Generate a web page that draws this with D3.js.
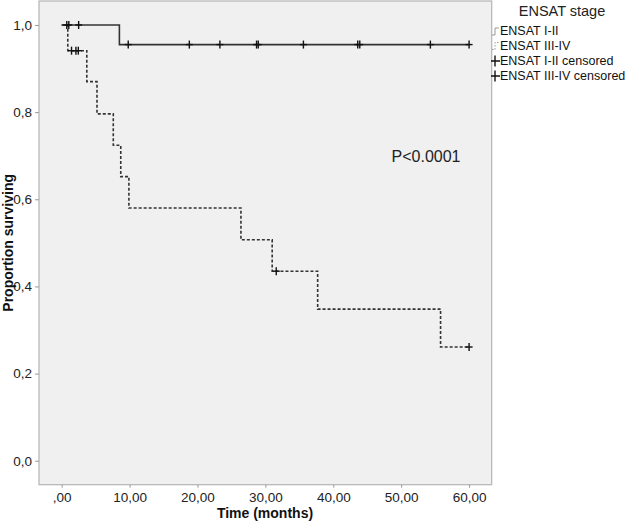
<!DOCTYPE html>
<html>
<head>
<meta charset="utf-8">
<script src="https://cdn.jsdelivr.net/npm/d3@7"></script>
<style>
  body { margin: 0; background: #fff; }
  svg { display: block; font-family: "Liberation Sans", Arial, sans-serif; }
</style>
</head>
<body>
<div id="chart"></div>
<script>
// Kaplan-Meier steps
const stageNames = ["ENSAT I-II", "ENSAT III-IV"];
const stepTimesI = [0, 8.5, 60];
const stepSurvI = [1.0, 0.955, 0.955];
const stepTimesIII = [0, 0.9, 3.7, 5.2, 7.6, 8.7, 9.9, 26.4, 31.0, 37.7, 55.8, 60];
const stepSurvIII = [1.0, 0.941, 0.870, 0.796, 0.724, 0.652, 0.580, 0.507, 0.435, 0.348, 0.261, 0.261];
const censorTimesI = [0.75, 1.05, 2.5, 9.8, 18.8, 23.3, 28.7, 28.95, 35.6, 43.6, 43.9, 54.3, 60];
const censorSurvI = [1.0, 1.0, 1.0, 0.955, 0.955, 0.955, 0.955, 0.955, 0.955, 0.955, 0.955, 0.955, 0.955];
const censorTimesIII = [1.45, 2.1, 2.45, 31.6, 60];
const censorSurvIII = [0.941, 0.941, 0.941, 0.435, 0.261];
const xTicks = [0, 10, 20, 30, 40, 50, 60];
const yTicks = [0, 0.2, 0.4, 0.6, 0.8, 1.0];
const legendLabels = ["ENSAT I-II", "ENSAT III-IV", "ENSAT I-II censored", "ENSAT III-IV censored"];

const width = 630, height = 523;
const plot = { left: 39, right: 491.7, top: 1, bottom: 484.7 };

const svg = d3.select("#chart").append("svg")
    .attr("width", width)
    .attr("height", height);

const x = d3.scaleLinear().domain([-3.34, 63.33]).range([plot.left, plot.right]);
const y = d3.scaleLinear().domain([-0.055, 1.055]).range([plot.bottom, plot.top]);

svg.append("rect")
    .attr("x", plot.left)
    .attr("y", plot.top)
    .attr("width", plot.right - plot.left)
    .attr("height", plot.bottom - plot.top)
    .attr("fill", "#f0f0f0")
    .attr("stroke", "#b4b4b4")
    .attr("stroke-width", 1.2);

// axes
const fmtX = d => d === 0 ? ",00" : d3.format(".2f")(d).replace(".", ",");
const fmtY = d => d3.format(".1f")(d).replace(".", ",");

const xAxis = svg.append("g")
    .attr("transform", `translate(0,${plot.bottom})`)
    .call(d3.axisBottom(x).tickValues(xTicks).tickSize(3).tickPadding(5).tickFormat(fmtX));
const yAxis = svg.append("g")
    .attr("transform", `translate(${plot.left},0)`)
    .call(d3.axisLeft(y).tickValues(yTicks).tickSize(4).tickPadding(3).tickFormat(fmtY));

[xAxis, yAxis].forEach(g => {
    g.select(".domain").remove();
    g.selectAll(".tick line").attr("stroke", "#999");
    g.selectAll(".tick text")
        .attr("fill", "#222")
        .style("font-size", "13.5px")
        .style("font-family", "Liberation Sans, Arial, sans-serif");
});

svg.append("text")
    .attr("x", 265)
    .attr("y", 518)
    .attr("text-anchor", "middle")
    .style("font-size", "14px")
    .style("font-weight", "bold")
    .attr("fill", "#111")
    .text("Time (months)");

svg.append("text")
    .attr("transform", `translate(13,${(plot.top + plot.bottom) / 2}) rotate(-90)`)
    .attr("text-anchor", "middle")
    .style("font-size", "14px")
    .style("font-weight", "bold")
    .attr("fill", "#111")
    .text("Proportion surviving");

// curves
const line = d3.line()
    .x(d => x(d[0]))
    .y(d => y(d[1]))
    .curve(d3.curveStepAfter);

const stepsI = stepTimesI.map((t, i) => [t, stepSurvI[i]]);
const stepsIII = stepTimesIII.map((t, i) => [t, stepSurvIII[i]]);

svg.append("path")
    .datum(stepsIII)
    .attr("d", line)
    .attr("fill", "none")
    .attr("stroke", "#333")
    .attr("stroke-width", 1.6)
    .attr("stroke-dasharray", "3,2");

svg.append("path")
    .datum(stepsI)
    .attr("d", line)
    .attr("fill", "none")
    .attr("stroke", "#333")
    .attr("stroke-width", 1.6);

const plus = d3.symbol().type(d3.symbolCross);
function drawCensor(times, surv) {
    const pts = times.map((t, i) => [t, surv[i]]);
    const g = svg.append("g");
    g.selectAll("line.v")
        .data(pts)
        .enter().append("line")
        .attr("class", "v")
        .attr("x1", d => x(d[0]))
        .attr("x2", d => x(d[0]))
        .attr("y1", d => y(d[1]) - 4)
        .attr("y2", d => y(d[1]) + 4)
        .attr("stroke", "#111")
        .attr("stroke-width", 1.4);
    g.selectAll("line.h")
        .data(pts)
        .enter().append("line")
        .attr("class", "h")
        .attr("x1", d => x(d[0]) - 3.5)
        .attr("x2", d => x(d[0]) + 3.5)
        .attr("y1", d => y(d[1]))
        .attr("y2", d => y(d[1]))
        .attr("stroke", "#111")
        .attr("stroke-width", 1.4);
}
drawCensor(censorTimesI, censorSurvI);
drawCensor(censorTimesIII, censorSurvIII);

svg.append("text")
    .attr("x", 426)
    .attr("y", 162)
    .attr("text-anchor", "middle")
    .style("font-size", "16px")
    .attr("fill", "#222")
    .text("P<0.0001");

// legend
svg.append("text")
    .attr("x", 562)
    .attr("y", 16)
    .attr("text-anchor", "middle")
    .style("font-size", "14.5px")
    .attr("fill", "#222")
    .text("ENSAT stage");

const legY = [31, 45.5, 61, 76];
const leg = svg.append("g");
leg.selectAll("text")
    .data(legendLabels)
    .enter().append("text")
    .attr("x", 500)
    .attr("y", (d, i) => legY[i])
    .attr("dy", "0.35em")
    .style("font-size", "12.5px")
    .attr("fill", "#111")
    .text(d => d);

// little step glyphs for the two curves
[0, 1].forEach(i => {
    const yy = legY[i];
    leg.append("path")
        .attr("d", `M492,${yy + 4}H495V${yy - 3}H499`)
        .attr("fill", "none")
        .attr("stroke", "#999")
        .attr("stroke-width", 1)
        .attr("stroke-dasharray", i === 1 ? "1.5,1.5" : null);
});
[2, 3].forEach(i => {
    const yy = legY[i];
    leg.append("path")
        .attr("d", `M491,${yy}H500M495,${yy - 5.5}V${yy + 5.5}`)
        .attr("stroke", "#111")
        .attr("stroke-width", 1.4);
});
</script>
</body>
</html>
